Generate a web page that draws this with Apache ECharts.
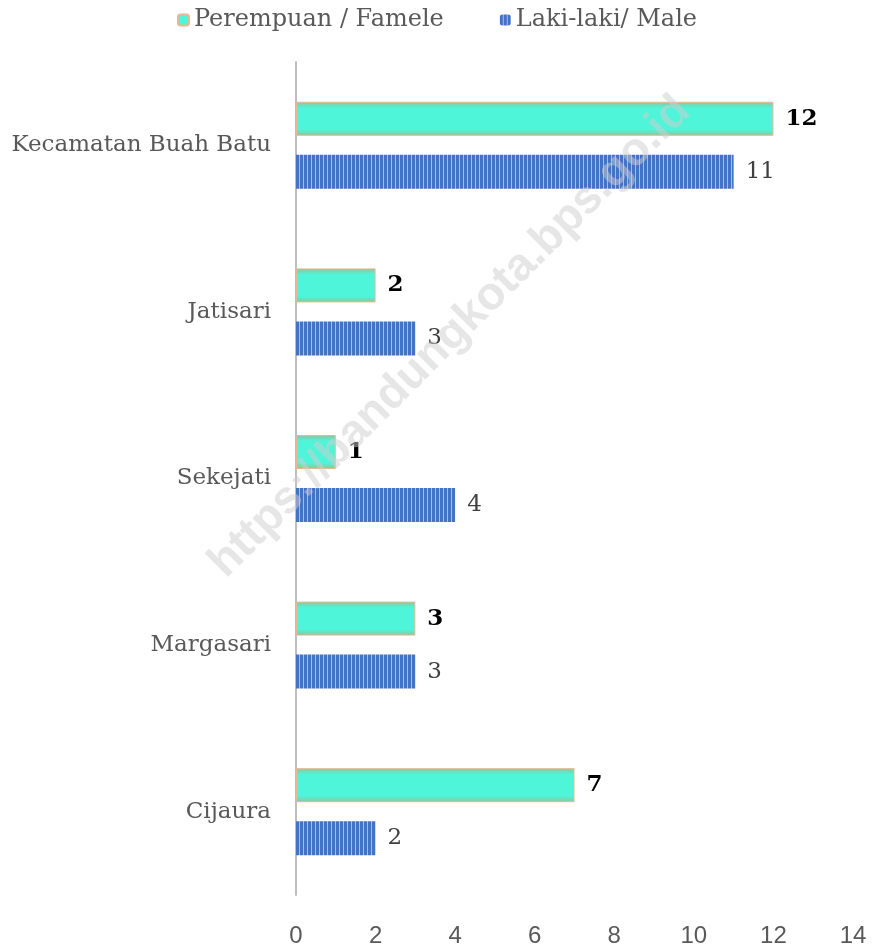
<!DOCTYPE html>
<html>
<head>
<meta charset="utf-8">
<script src="https://cdn.jsdelivr.net/npm/echarts@6/dist/echarts.min.js"></script>
<style>
  html, body { margin: 0; padding: 0; background: #fff; }
  #chart { width: 874px; height: 949px; }
</style>
</head>
<body>
<div id="chart"></div>
<script>
const categories = ['Kecamatan Buah Batu', 'Jatisari', 'Sekejati', 'Margasari', 'Cijaura']
const female = [12, 2, 1, 3, 7]
const male = [11, 3, 4, 3, 2]
const xTicks = [0, 2, 4, 6, 8, 10, 12, 14]

// striped fill for the male bars
const stripe = document.createElement('canvas')
stripe.width = 4
stripe.height = 4
const ctx = stripe.getContext('2d')
ctx.fillStyle = '#4472c4'
ctx.fillRect(0, 0, 4, 4)
ctx.fillStyle = '#a7bde6'
ctx.fillRect(3, 0, 1, 4)

const femaleFill = {
  type: 'linear', x: 0, y: 0, x2: 0, y2: 1,
  colorStops: [
    { offset: 0, color: '#93c39a' },
    { offset: 0.18, color: '#4ef5d8' },
    { offset: 0.82, color: '#4ef5d8' },
    { offset: 1, color: '#93c39a' },
  ],
}

const chart = echarts.init(document.getElementById('chart'))
chart.setOption({
  backgroundColor: '#fff',
  animation: false,
  legend: {
    top: 3,
    left: 'center',
    itemWidth: 11,
    itemHeight: 11,
    itemGap: 56,
    data: ['Perempuan / Famele', 'Laki-laki/ Male'],
    textStyle: { color: '#595959', fontSize: 24, fontFamily: 'DejaVu Serif' },
  },
  grid: { top: 62, bottom: 54, left: 296, right: 21 },
  xAxis: {
    type: 'value',
    min: xTicks[0],
    max: xTicks[xTicks.length - 1],
    interval: 2,
    axisLine: { show: false },
    axisTick: { show: false },
    splitLine: { show: false },
    axisLabel: { color: '#595959', fontSize: 24, fontFamily: 'Liberation Sans', margin: 29 },
  },
  yAxis: {
    type: 'category',
    inverse: true,
    data: categories,
    axisLine: { lineStyle: { color: '#bfbfbf', width: 2 } },
    axisTick: { show: false },
    axisLabel: { color: '#595959', fontSize: 23, fontFamily: 'DejaVu Serif', margin: 25 },
  },
  graphic: [{
    type: 'text',
    x: 450,
    y: 337,
    rotation: Math.PI / 4,
    style: {
      text: 'https://bandungkota.bps.go.id',
      x: 0, y: 0,
      align: 'center',
      verticalAlign: 'middle',
      fill: 'rgba(205,205,205,0.5)',
      font: 'bold 46px "Liberation Sans"',
    },
    z: 100,
  }],
  series: [
    {
      name: 'Perempuan / Famele',
      type: 'bar',
      barWidth: 34,
      barGap: '56%',
      data: female,
      itemStyle: { color: femaleFill, borderColor: '#e6b98e', borderWidth: 1 },
      label: {
        show: true,
        position: 'right',
        distance: 12,
        color: '#000',
        fontWeight: 'bold',
        fontSize: 23,
        fontFamily: 'DejaVu Serif',
      },
    },
    {
      name: 'Laki-laki/ Male',
      type: 'bar',
      barWidth: 34,
      data: male,
      itemStyle: { color: { image: stripe, repeat: 'repeat' } },
      label: {
        show: true,
        position: 'right',
        distance: 12,
        color: '#404040',
        fontSize: 23,
        fontFamily: 'DejaVu Serif',
      },
    },
  ],
})
</script>
</body>
</html>
